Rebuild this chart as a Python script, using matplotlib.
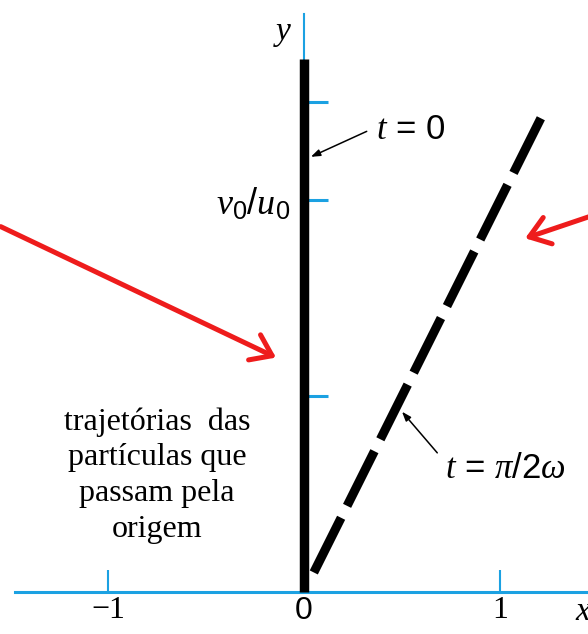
import numpy as np
import matplotlib
matplotlib.use("Agg")
import matplotlib.pyplot as plt
from matplotlib.patches import FancyArrowPatch

# axis ticks
xticks = [-1, 0, 1]
xtick_labels = ["\u22121", "0", "1"]
yticks = [1, 2, 2.5]
ytick_labels = ["", "$v_0/u_0$", ""]

# trajectory at t = 0 (along the y axis)
t0_x = [0, 0]
t0_y = [0, 2.72]

# trajectory at t = pi/2w (y = 2x)
t1_x = [0.05, 1.21]
t1_y = [0.10, 2.42]

caption = "trajetórias  das\npartículas que\npassam pela\norigem"

blue = "#1ba1e2"
red = "#ee1c1c"

plt.rcParams["mathtext.fontset"] = "custom"
plt.rcParams["mathtext.rm"] = "Liberation Sans"
plt.rcParams["mathtext.it"] = "Liberation Serif:italic"
plt.rcParams["lines.scale_dashes"] = False

fig = plt.figure(figsize=(5.88, 6.34), dpi=100)
ax = fig.add_axes([0, 0, 1, 1])
ax.set_xlim(-1.551, 1.449)
ax.set_ylim(-0.214, 3.02)

# axes through the origin
for side in ["top", "right"]:
    ax.spines[side].set_visible(False)
ax.spines["bottom"].set_position(("data", 0))
ax.spines["left"].set_position(("data", 0))
ax.spines["bottom"].set_bounds(-1.474, 1.449)
ax.spines["left"].set_bounds(0, 2.95)
for side in ["bottom", "left"]:
    ax.spines[side].set_color(blue)
ax.spines["bottom"].set_linewidth(2.2)
ax.spines["left"].set_linewidth(1.5)

ax.set_xticks(xticks, xtick_labels, family="Liberation Serif", fontsize=23)
ax.set_yticks(yticks, ytick_labels, fontsize=26)
ax.tick_params(axis="x", direction="in", length=16, width=1.5, color=blue, pad=3)
ax.tick_params(axis="y", direction="in", length=17, width=2.2, color=blue, pad=10)
ax.get_xticklabels()[1].set_family("Liberation Sans")

ax.plot(t0_x, t0_y, color="black", lw=6.8, solid_capstyle="butt", zorder=3)
ax.plot(t1_x, t1_y, color="black", lw=6.5, dashes=(44, 9.6),
        dash_capstyle="butt", zorder=3)

ax.text(-0.105, 2.86, "y", family="Liberation Serif", style="italic",
        fontsize=24, ha="center", va="center")
ax.text(1.425, -0.1, "x", family="Liberation Serif", style="italic",
        fontsize=24, ha="center", va="center")

# time labels with their pointers
arrow_style = dict(arrowstyle="-|>,head_length=0.55,head_width=0.2",
                   color="black", lw=1.1, shrinkA=0, shrinkB=0)
ax.text(0.545, 2.36, "$t$ = 0", family="Liberation Sans", fontsize=25,
        ha="center", va="center")
ax.annotate("", xy=(0.035, 2.22), xytext=(0.32, 2.35), arrowprops=arrow_style)
ax.text(1.025, 0.63, "$t$ = $\\pi/2\\omega$", family="Liberation Sans",
        fontsize=25, ha="center", va="center")
ax.annotate("", xy=(0.5, 0.92), xytext=(0.68, 0.71), arrowprops=arrow_style)

ax.text(-0.75, 0.595, caption, family="Liberation Serif", fontsize=23,
        ha="center", va="center", linespacing=1.3)

# red pointers
for tail, head in [((-1.56, 1.87), (-0.13, 1.19)),
                   ((1.50, 1.93), (1.115, 1.80))]:
    ax.add_patch(FancyArrowPatch(tail, head, color=red, lw=3.6,
                                 arrowstyle="->,head_length=0.7,head_width=0.5",
                                 mutation_scale=20, capstyle="round",
                                 joinstyle="round", clip_on=False, zorder=4))

fig.savefig("out.png", dpi=100)
